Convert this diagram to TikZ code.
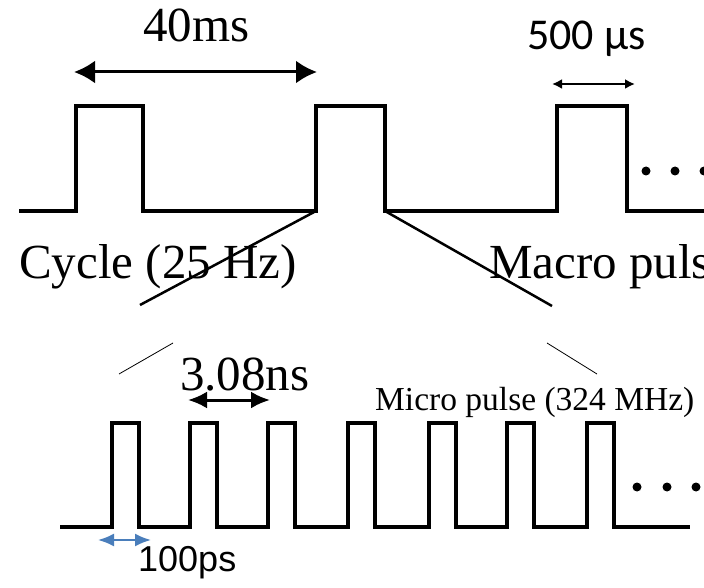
\documentclass[tikz,border=0pt]{standalone}
\usepackage{fontspec}
\setmainfont{Liberation Serif}
\newfontfamily\calibrifont{Carlito}
\newfontfamily\arialfont{Liberation Sans}
\usetikzlibrary{arrows.meta}
\definecolor{dimblue}{RGB}{74,126,187}

\begin{document}
\begin{tikzpicture}[x=1pt,y=-1pt,
  wave/.style={line width=4.2pt},
  zoomline/.style={line width=2.5pt},
  bigdim/.style={line width=3pt,{Latex[length=21pt,width=23pt]}-{Latex[length=21pt,width=23pt]}},
  meddim/.style={line width=3pt,{Latex[length=19pt,width=17pt]}-{Latex[length=19pt,width=17pt]}},
  smalldim/.style={line width=2pt,{Latex[length=10pt,width=10pt]}-{Latex[length=10pt,width=10pt]}},
  bluedim/.style={dimblue,line width=2pt,{Latex[length=16pt,width=13pt]}-{Latex[length=16pt,width=13pt]}},
  lbl/.style={anchor=base west,inner sep=0pt},
  big/.style={font=\fontsize{49}{56}\selectfont}]
  \useasboundingbox (0,0) rectangle (704,588);
  \clip (0,0) rectangle (704,588);

  % Macro pulses (upper trace)
  \draw[wave] (19,211) -- (76,211) -- (76,106) -- (143,106) -- (143,211)
    -- (316,211) -- (316,106) -- (385,106) -- (385,211)
    -- (557,211) -- (557,106) -- (627,106) -- (627,211) -- (710,211);
  \foreach \x in {646,675,704}
    \fill (\x,171) circle (4.5);

  % Micro pulses (lower trace)
  \draw[wave] (60,527)
    \foreach \r in {112,190,268,348,429,507,587}
      { -- (\r,527) -- (\r,423) -- ({\r+27},423) -- ({\r+27},527) }
    -- (690,527);
  \foreach \x in {637,667,696}
    \fill (\x,487) circle (4.5);

  % Labels
  \node[lbl,big] (period) at (143,42) {40ms};
  \node[lbl,font=\calibrifont\fontsize{44}{52}\selectfont] (macrowidth) at (527,50) {500 µs};
  \node[lbl,big] (cycle) at (19,278) {Cycle (25 Hz)};
  \node[lbl,big] (macro) at (489,278) {Macro pulse};
  \node[lbl,big] (spacing) at (180,390) {3.08ns};
  \node[lbl,font=\fontsize{33.5}{40}\selectfont] (micro) at (375,410) {Micro pulse (324 MHz)};
  \node[lbl,font=\arialfont\fontsize{36}{42}\selectfont] (microwidth) at (138,571) {100ps};

  % Dimension arrows
  \coordinate (p1) at (74,72);   \coordinate (p2) at (317,72);
  \coordinate (w1) at (552,84);  \coordinate (w2) at (635,84);
  \coordinate (s1) at (188,400); \coordinate (s2) at (270,400);
  \coordinate (b1) at (98,540);  \coordinate (b2) at (151,540);
  \draw[bigdim] (p1) -- (p2);
  \draw[smalldim] (w1) -- (w2);
  \draw[meddim] (s1) -- (s2);
  \draw[bluedim] (b1) -- (b2);

  % Zoom lines
  \coordinate (zl) at (316,211); \coordinate (zr) at (385,211);
  \draw[zoomline] (zl) -- (140,305);
  \draw[thick] (173,343) -- (119,374);
  \draw[zoomline] (zr) -- (552,306);
  \draw[thick] (547,343) -- (597,374);
\end{tikzpicture}
\end{document}
